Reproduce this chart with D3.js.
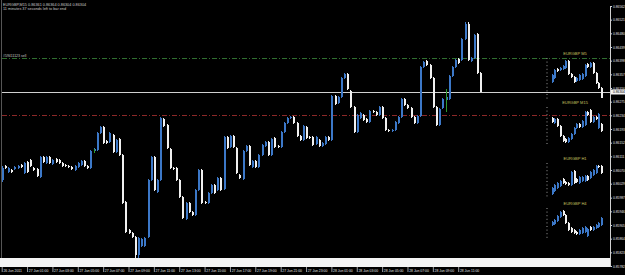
<!DOCTYPE html>
<html>
<head>
<meta charset="utf-8">
<script src="https://cdn.jsdelivr.net/npm/d3@7/dist/d3.min.js"></script>
<style>
  html, body { margin: 0; padding: 0; background: #000; }
  svg { display: block; font-family: "Liberation Sans", Arial, sans-serif; }
</style>
</head>
<body>
<div id="canvas"></div>
<script>
// EURGBP M15 bars, [open, high, low, close], first bar 26 Jun 2011 23:00
const m15Ohlc = [
  [0.86040, 0.86082, 0.86034, 0.86076], [0.86082, 0.86085, 0.86073, 0.86076],
  [0.86064, 0.86079, 0.86061, 0.86076], [0.86070, 0.86073, 0.86061, 0.86064],
  [0.86073, 0.86082, 0.86070, 0.86079], [0.86076, 0.86085, 0.86073, 0.86082],
  [0.86085, 0.86088, 0.86076, 0.86079], [0.86061, 0.86094, 0.86058, 0.86091],
  [0.86094, 0.86097, 0.86061, 0.86064], [0.86100, 0.86103, 0.86079, 0.86082],
  [0.86076, 0.86079, 0.86067, 0.86070], [0.86073, 0.86076, 0.86049, 0.86052],
  [0.86049, 0.86112, 0.86046, 0.86109], [0.86109, 0.86112, 0.86091, 0.86094],
  [0.86091, 0.86112, 0.86088, 0.86109], [0.86109, 0.86112, 0.86088, 0.86091],
  [0.86088, 0.86103, 0.86085, 0.86100], [0.86103, 0.86106, 0.86091, 0.86094],
  [0.86100, 0.86103, 0.86088, 0.86091], [0.86091, 0.86094, 0.86079, 0.86082],
  [0.86085, 0.86088, 0.86079, 0.86082], [0.86082, 0.86085, 0.86076, 0.86079],
  [0.86079, 0.86082, 0.86070, 0.86073], [0.86070, 0.86085, 0.86067, 0.86082],
  [0.86079, 0.86094, 0.86076, 0.86091], [0.86085, 0.86100, 0.86082, 0.86097],
  [0.86097, 0.86100, 0.86079, 0.86082], [0.86082, 0.86085, 0.86073, 0.86076],
  [0.86076, 0.86130, 0.86073, 0.86127], [0.86127, 0.86136, 0.86124, 0.86133],
  [0.86130, 0.86184, 0.86127, 0.86181], [0.86181, 0.86202, 0.86178, 0.86199],
  [0.86199, 0.86202, 0.86148, 0.86151], [0.86157, 0.86160, 0.86148, 0.86151],
  [0.86154, 0.86184, 0.86151, 0.86181], [0.86175, 0.86178, 0.86121, 0.86124],
  [0.86124, 0.86163, 0.86121, 0.86160], [0.86163, 0.86166, 0.86112, 0.86115],
  [0.86115, 0.86118, 0.85968, 0.85971], [0.85974, 0.85977, 0.85881, 0.85884],
  [0.85890, 0.85893, 0.85878, 0.85881], [0.85881, 0.85884, 0.85866, 0.85869],
  [0.85869, 0.85872, 0.85797, 0.85815], [0.85815, 0.85869, 0.85797, 0.85866],
  [0.85842, 0.85866, 0.85839, 0.85863], [0.85842, 0.85869, 0.85839, 0.85866],
  [0.85869, 0.86043, 0.85866, 0.86040], [0.86040, 0.86112, 0.86037, 0.86109],
  [0.86109, 0.86112, 0.86007, 0.86010], [0.86004, 0.86043, 0.86001, 0.86040],
  [0.86040, 0.86229, 0.86037, 0.86226], [0.86223, 0.86226, 0.86199, 0.86202],
  [0.86205, 0.86208, 0.86133, 0.86136], [0.86133, 0.86136, 0.86073, 0.86076],
  [0.86076, 0.86079, 0.86070, 0.86073], [0.86076, 0.86079, 0.86037, 0.86040],
  [0.86040, 0.86043, 0.85986, 0.85989], [0.85989, 0.85992, 0.85923, 0.85926],
  [0.85923, 0.85974, 0.85920, 0.85971], [0.85971, 0.85974, 0.85941, 0.85944],
  [0.85944, 0.85947, 0.85932, 0.85935], [0.85935, 0.86013, 0.85932, 0.86010],
  [0.86010, 0.86073, 0.86007, 0.86070], [0.86070, 0.86073, 0.85968, 0.85971],
  [0.85974, 0.85977, 0.85968, 0.85971], [0.85971, 0.86004, 0.85968, 0.86001],
  [0.86001, 0.86028, 0.85998, 0.86025], [0.86025, 0.86028, 0.85998, 0.86001],
  [0.86010, 0.86049, 0.86007, 0.86046], [0.86046, 0.86049, 0.86007, 0.86010],
  [0.86013, 0.86172, 0.86010, 0.86169], [0.86169, 0.86172, 0.86133, 0.86136],
  [0.86139, 0.86175, 0.86136, 0.86172], [0.86172, 0.86175, 0.86136, 0.86139],
  [0.86136, 0.86139, 0.86058, 0.86061], [0.86055, 0.86058, 0.86043, 0.86046],
  [0.86043, 0.86130, 0.86040, 0.86127], [0.86127, 0.86145, 0.86124, 0.86142],
  [0.86142, 0.86145, 0.86082, 0.86085], [0.86079, 0.86100, 0.86076, 0.86097],
  [0.86097, 0.86100, 0.86076, 0.86079], [0.86079, 0.86118, 0.86076, 0.86115],
  [0.86115, 0.86148, 0.86112, 0.86145], [0.86142, 0.86157, 0.86139, 0.86154],
  [0.86154, 0.86157, 0.86112, 0.86115], [0.86115, 0.86166, 0.86112, 0.86163],
  [0.86166, 0.86169, 0.86136, 0.86139], [0.86142, 0.86145, 0.86136, 0.86139],
  [0.86139, 0.86187, 0.86136, 0.86184], [0.86184, 0.86214, 0.86181, 0.86211],
  [0.86211, 0.86229, 0.86208, 0.86226], [0.86226, 0.86232, 0.86223, 0.86229],
  [0.86229, 0.86232, 0.86208, 0.86211], [0.86211, 0.86214, 0.86169, 0.86172],
  [0.86172, 0.86175, 0.86157, 0.86160], [0.86160, 0.86205, 0.86157, 0.86202],
  [0.86199, 0.86202, 0.86163, 0.86166], [0.86169, 0.86172, 0.86163, 0.86166],
  [0.86169, 0.86172, 0.86142, 0.86145], [0.86148, 0.86172, 0.86145, 0.86169],
  [0.86160, 0.86163, 0.86139, 0.86142], [0.86142, 0.86154, 0.86139, 0.86151],
  [0.86148, 0.86172, 0.86145, 0.86169], [0.86169, 0.86172, 0.86157, 0.86160],
  [0.86160, 0.86295, 0.86157, 0.86292], [0.86292, 0.86295, 0.86265, 0.86268],
  [0.86271, 0.86292, 0.86268, 0.86289], [0.86289, 0.86349, 0.86286, 0.86346],
  [0.86346, 0.86361, 0.86343, 0.86358], [0.86358, 0.86361, 0.86310, 0.86313],
  [0.86307, 0.86310, 0.86256, 0.86259], [0.86259, 0.86262, 0.86181, 0.86184],
  [0.86184, 0.86238, 0.86181, 0.86235], [0.86226, 0.86244, 0.86223, 0.86241],
  [0.86235, 0.86238, 0.86217, 0.86220], [0.86223, 0.86226, 0.86211, 0.86214],
  [0.86214, 0.86250, 0.86211, 0.86247], [0.86247, 0.86250, 0.86241, 0.86244],
  [0.86244, 0.86247, 0.86232, 0.86235], [0.86235, 0.86262, 0.86232, 0.86259],
  [0.86259, 0.86262, 0.86223, 0.86226], [0.86226, 0.86229, 0.86187, 0.86190],
  [0.86190, 0.86193, 0.86184, 0.86187], [0.86187, 0.86193, 0.86184, 0.86190],
  [0.86190, 0.86217, 0.86187, 0.86214], [0.86211, 0.86232, 0.86208, 0.86229],
  [0.86229, 0.86286, 0.86226, 0.86283], [0.86283, 0.86286, 0.86262, 0.86265],
  [0.86265, 0.86268, 0.86253, 0.86256], [0.86256, 0.86259, 0.86226, 0.86229],
  [0.86229, 0.86232, 0.86208, 0.86211], [0.86211, 0.86235, 0.86208, 0.86232],
  [0.86232, 0.86382, 0.86229, 0.86379], [0.86379, 0.86397, 0.86376, 0.86394],
  [0.86397, 0.86400, 0.86382, 0.86385], [0.86385, 0.86388, 0.86343, 0.86346],
  [0.86346, 0.86349, 0.86256, 0.86259], [0.86259, 0.86262, 0.86202, 0.86205],
  [0.86205, 0.86256, 0.86202, 0.86253], [0.86256, 0.86286, 0.86253, 0.86283],
  [0.86280, 0.86292, 0.86277, 0.86289], [0.86283, 0.86355, 0.86280, 0.86352],
  [0.86352, 0.86382, 0.86349, 0.86379], [0.86379, 0.86403, 0.86376, 0.86400],
  [0.86403, 0.86406, 0.86388, 0.86391], [0.86400, 0.86466, 0.86397, 0.86463],
  [0.86463, 0.86514, 0.86460, 0.86508], [0.86508, 0.86514, 0.86397, 0.86400],
  [0.86397, 0.86409, 0.86394, 0.86406], [0.86406, 0.86478, 0.86403, 0.86475],
  [0.86478, 0.86481, 0.86358, 0.86361], [0.86361, 0.86364, 0.86304, 0.86304]
];

// small charts on the right, 19 bars each, [open, high, low, close]
const m5Mini = [
  [0.86352, 0.86376, 0.86349, 0.86373], [0.86364, 0.86391, 0.86361, 0.86388],
  [0.86391, 0.86394, 0.86382, 0.86385], [0.86388, 0.86397, 0.86385, 0.86394],
  [0.86391, 0.86403, 0.86388, 0.86400], [0.86394, 0.86418, 0.86391, 0.86415],
  [0.86415, 0.86418, 0.86373, 0.86376], [0.86376, 0.86379, 0.86364, 0.86367],
  [0.86367, 0.86370, 0.86349, 0.86352], [0.86355, 0.86367, 0.86352, 0.86364],
  [0.86358, 0.86376, 0.86355, 0.86373], [0.86361, 0.86379, 0.86358, 0.86376],
  [0.86370, 0.86406, 0.86367, 0.86403], [0.86406, 0.86409, 0.86394, 0.86397],
  [0.86397, 0.86412, 0.86394, 0.86409], [0.86409, 0.86412, 0.86376, 0.86379],
  [0.86379, 0.86382, 0.86346, 0.86349], [0.86349, 0.86352, 0.86331, 0.86334],
  [0.86334, 0.86337, 0.86304, 0.86304]
];
const m15Mini = [
  [0.86343, 0.86346, 0.86328, 0.86331], [0.86328, 0.86343, 0.86325, 0.86340],
  [0.86340, 0.86343, 0.86316, 0.86319], [0.86319, 0.86322, 0.86286, 0.86289],
  [0.86289, 0.86292, 0.86271, 0.86274], [0.86280, 0.86283, 0.86268, 0.86271],
  [0.86271, 0.86286, 0.86268, 0.86283], [0.86280, 0.86298, 0.86277, 0.86295],
  [0.86295, 0.86316, 0.86292, 0.86313], [0.86313, 0.86328, 0.86310, 0.86325],
  [0.86325, 0.86328, 0.86313, 0.86316], [0.86316, 0.86337, 0.86313, 0.86334],
  [0.86322, 0.86364, 0.86319, 0.86361], [0.86361, 0.86364, 0.86349, 0.86352],
  [0.86367, 0.86370, 0.86328, 0.86331], [0.86331, 0.86349, 0.86328, 0.86346],
  [0.86346, 0.86349, 0.86337, 0.86340], [0.86313, 0.86358, 0.86310, 0.86355],
  [0.86325, 0.86328, 0.86301, 0.86304]
];
const h1Mini = [
  [0.86241, 0.86262, 0.86238, 0.86259], [0.86250, 0.86271, 0.86247, 0.86268],
  [0.86259, 0.86277, 0.86256, 0.86274], [0.86265, 0.86283, 0.86262, 0.86280],
  [0.86286, 0.86289, 0.86271, 0.86274], [0.86277, 0.86280, 0.86268, 0.86271],
  [0.86274, 0.86277, 0.86265, 0.86268], [0.86268, 0.86310, 0.86265, 0.86307],
  [0.86310, 0.86313, 0.86271, 0.86274], [0.86286, 0.86289, 0.86274, 0.86277],
  [0.86274, 0.86295, 0.86271, 0.86292], [0.86280, 0.86295, 0.86277, 0.86292],
  [0.86280, 0.86298, 0.86277, 0.86295], [0.86295, 0.86298, 0.86280, 0.86283],
  [0.86289, 0.86310, 0.86286, 0.86307], [0.86298, 0.86316, 0.86295, 0.86313],
  [0.86304, 0.86328, 0.86301, 0.86325], [0.86325, 0.86328, 0.86319, 0.86322],
  [0.86325, 0.86328, 0.86301, 0.86304]
];
const h4Mini = [
  [0.86283, 0.86295, 0.86280, 0.86292], [0.86286, 0.86301, 0.86283, 0.86298],
  [0.86295, 0.86313, 0.86292, 0.86310], [0.86307, 0.86325, 0.86304, 0.86322],
  [0.86325, 0.86328, 0.86310, 0.86313], [0.86313, 0.86316, 0.86286, 0.86289],
  [0.86289, 0.86292, 0.86265, 0.86268], [0.86274, 0.86277, 0.86259, 0.86262],
  [0.86268, 0.86271, 0.86256, 0.86259], [0.86262, 0.86265, 0.86253, 0.86256],
  [0.86256, 0.86271, 0.86253, 0.86268], [0.86259, 0.86277, 0.86256, 0.86274],
  [0.86262, 0.86280, 0.86259, 0.86277], [0.86250, 0.86274, 0.86247, 0.86271],
  [0.86277, 0.86280, 0.86265, 0.86268], [0.86268, 0.86280, 0.86265, 0.86277],
  [0.86274, 0.86286, 0.86271, 0.86283], [0.86277, 0.86292, 0.86274, 0.86289],
  [0.86283, 0.86307, 0.86280, 0.86304]
];
const miniTitles = ["EURGBP M5", "EURGBP M15", "EURGBP H1", "EURGBP H4"];

// price axis labels
const priceTicks = [
  0.86562, 0.86521, 0.86480, 0.86439, 0.86398, 0.86357, 0.86316, 0.86275, 0.86234, 0.86193,
  0.86152, 0.86111, 0.86070, 0.86029, 0.85987, 0.85946, 0.85905, 0.85864, 0.85823, 0.85782
];

// time axis labels
const timeTicks = [
  "2011-06-26 23:00", "2011-06-27 01:00", "2011-06-27 03:00", "2011-06-27 05:00",
  "2011-06-27 07:00", "2011-06-27 09:00", "2011-06-27 11:00", "2011-06-27 13:00",
  "2011-06-27 15:00", "2011-06-27 17:00", "2011-06-27 19:00", "2011-06-27 21:00",
  "2011-06-27 23:00", "2011-06-28 01:00", "2011-06-28 03:00", "2011-06-28 05:00",
  "2011-06-28 07:00", "2011-06-28 09:00", "2011-06-28 11:00"
];
const timeLabels = [
  "26 Jun 2011", "27 Jun 01:00", "27 Jun 03:00", "27 Jun 05:00", "27 Jun 07:00",
  "27 Jun 09:00", "27 Jun 11:00", "27 Jun 13:00", "27 Jun 15:00", "27 Jun 17:00",
  "27 Jun 19:00", "27 Jun 21:00", "27 Jun 23:00", "28 Jun 01:00", "28 Jun 03:00",
  "28 Jun 05:00", "28 Jun 07:00", "28 Jun 09:00", "28 Jun 11:00"
];

// order level lines and trade marks
const orderLevels = [
  { price: 0.86406, color: "#2f6e2f", label: "#59411123 sell" },
  { price: 0.86235, color: "#8c2828", label: "" }
];
const tradeMarks = [[29, 0.86121, 0.86133], [140, 0.86244, 0.86313]];

const width = 625;
const height = 275;
const plotRight = 610;
const bull = "#3c78c8";
const bear = "#f0f0f0";

const parse = d3.timeParse("%Y-%m-%d %H:%M");
const start = parse(timeTicks[0]);
const barTimes = m15Ohlc.map((d, i) => d3.timeMinute.offset(start, 15 * i));

const svg = d3.select("#canvas").append("svg")
  .attr("width", width)
  .attr("height", height)
  .style("background", "#000");

const x = d3.scaleTime()
  .domain([start, parse(timeTicks[timeTicks.length - 1])])
  .range([1.7, 458.2]);

const y = d3.scaleLinear()
  .domain([priceTicks[priceTicks.length - 1], priceTicks[0]])
  .range([266, 6]);

// left border
svg.append("line")
  .attr("x1", 1.5).attr("x2", 1.5).attr("y1", 0).attr("y2", 258)
  .attr("stroke", "#555");

// header
const last = m15Ohlc[m15Ohlc.length - 1];
svg.append("text")
  .attr("x", 3).attr("y", 5.5)
  .attr("fill", "#c8c8c8").attr("font-size", 3.8)
  .text("EURGBP,M15  " + last.map((v) => v.toFixed(5)).join(" "));
svg.append("text")
  .attr("x", 3).attr("y", 9.8)
  .attr("fill", "#c8c8c8").attr("font-size", 3.8)
  .text("11 minutes 37 seconds left to bar end");

// order levels
orderLevels.forEach((o) => {
  svg.append("line")
    .attr("x1", 2).attr("x2", plotRight)
    .attr("y1", Math.round(y(o.price)) + 0.5).attr("y2", Math.round(y(o.price)) + 0.5)
    .attr("stroke", o.color)
    .attr("stroke-dasharray", "5,2,1,2");
  if (o.label) {
    svg.append("text")
      .attr("x", 3).attr("y", y(o.price) - 1.5)
      .attr("fill", "#c8c8c8").attr("font-size", 3.5)
      .text(o.label);
  }
});

// bid line
svg.append("line")
  .attr("x1", 2).attr("x2", plotRight)
  .attr("y1", Math.round(y(last[3])) + 0.5).attr("y2", Math.round(y(last[3])) + 0.5)
  .attr("stroke", "#d0d0d0");

// candles
const drawCandles = (g, data, xs, ys) => {
  const c = g.selectAll("g.candle").data(data).enter().append("g")
    .attr("class", "candle")
    .attr("shape-rendering", "crispEdges");
  c.append("line")
    .attr("x1", (d, i) => Math.round(xs(i)) + 0.5)
    .attr("x2", (d, i) => Math.round(xs(i)) + 0.5)
    .attr("y1", (d) => ys(d[1]))
    .attr("y2", (d) => ys(d[2]))
    .attr("stroke", (d) => (d[3] >= d[0] ? bull : bear));
  c.append("rect")
    .attr("x", (d, i) => Math.round(xs(i)) - 0.5)
    .attr("width", 2)
    .attr("y", (d) => ys(Math.max(d[0], d[3])))
    .attr("height", (d) => Math.max(1, Math.abs(ys(d[0]) - ys(d[3]))))
    .attr("fill", (d) => (d[3] >= d[0] ? bull : bear));
};

drawCandles(svg.append("g"), m15Ohlc, (i) => x(barTimes[i]), y);

// trade marks
svg.append("g").selectAll("line").data(tradeMarks).enter().append("line")
  .attr("x1", (d) => Math.round(x(barTimes[d[0]])) + 0.5)
  .attr("x2", (d) => Math.round(x(barTimes[d[0]])) + 0.5)
  .attr("y1", (d) => y(d[1]))
  .attr("y2", (d) => y(d[2]))
  .attr("stroke", "#2f9a2f");

// small multi-timeframe charts
const miniData = [m5Mini, m15Mini, h1Mini, h4Mini];
const miniBoxes = [[60, 98], [109, 143], [165, 195], [210, 237]];
const mx = d3.scaleLinear().domain([0, 18]).range([551.5, 601]);

miniData.forEach((data, k) => {
  const [top, bottom] = miniBoxes[k];
  const my = d3.scaleLinear()
    .domain([d3.min(data, (d) => d[2]), d3.max(data, (d) => d[1])])
    .range([bottom, top]);
  const g = svg.append("g");
  g.append("text")
    .attr("x", 575).attr("y", top - 5.5)
    .attr("text-anchor", "middle")
    .attr("fill", "#c8c060").attr("font-size", 4)
    .text(miniTitles[k]);
  g.append("line")
    .attr("x1", 547).attr("x2", 547)
    .attr("y1", top - 2).attr("y2", bottom + 3)
    .attr("stroke", "#9a9a9a")
    .attr("stroke-dasharray", "1,2.6");
  drawCandles(g, data, mx, my);
});

// price axis
const yAxis = svg.append("g")
  .attr("transform", `translate(${plotRight},0)`)
  .call(d3.axisRight(y).tickValues(priceTicks).tickSize(2).tickPadding(1).tickFormat(d3.format(".5f")));
yAxis.select(".domain").attr("stroke", "#d0d0d0");
yAxis.selectAll(".tick line").attr("stroke", "#d0d0d0");
yAxis.selectAll("text").attr("fill", "#e0e0e0").attr("font-size", 3.3)
  .attr("font-family", "Liberation Sans, Arial, sans-serif");

// current price box
svg.append("rect")
  .attr("x", plotRight + 1).attr("y", y(last[3]) - 2.5)
  .attr("width", width - plotRight - 1).attr("height", 5)
  .attr("fill", "#f4f4f4");
svg.append("text")
  .attr("x", plotRight + 3).attr("y", y(last[3]) + 1.3)
  .attr("fill", "#000").attr("font-size", 3.3)
  .text(last[3].toFixed(5));

// bottom strip
svg.append("rect")
  .attr("x", 0).attr("y", 258)
  .attr("width", plotRight).attr("height", 9)
  .attr("fill", "#f4f4f4");

// time axis
const xAxis = svg.append("g")
  .attr("transform", "translate(0,267)")
  .call(d3.axisBottom(x).tickValues(timeTicks.map(parse)).tickSize(5)
    .tickFormat((d, i) => timeLabels[i]));
xAxis.select(".domain").remove();
xAxis.selectAll(".tick line").attr("stroke", "#9a9a9a");
xAxis.selectAll("text")
  .attr("fill", "#e0e0e0").attr("font-size", 3.4)
  .attr("font-family", "Liberation Sans, Arial, sans-serif")
  .attr("text-anchor", "start")
  .attr("x", 1.2).attr("y", 2.4).attr("dy", "0.71em");
</script>
</body>
</html>
